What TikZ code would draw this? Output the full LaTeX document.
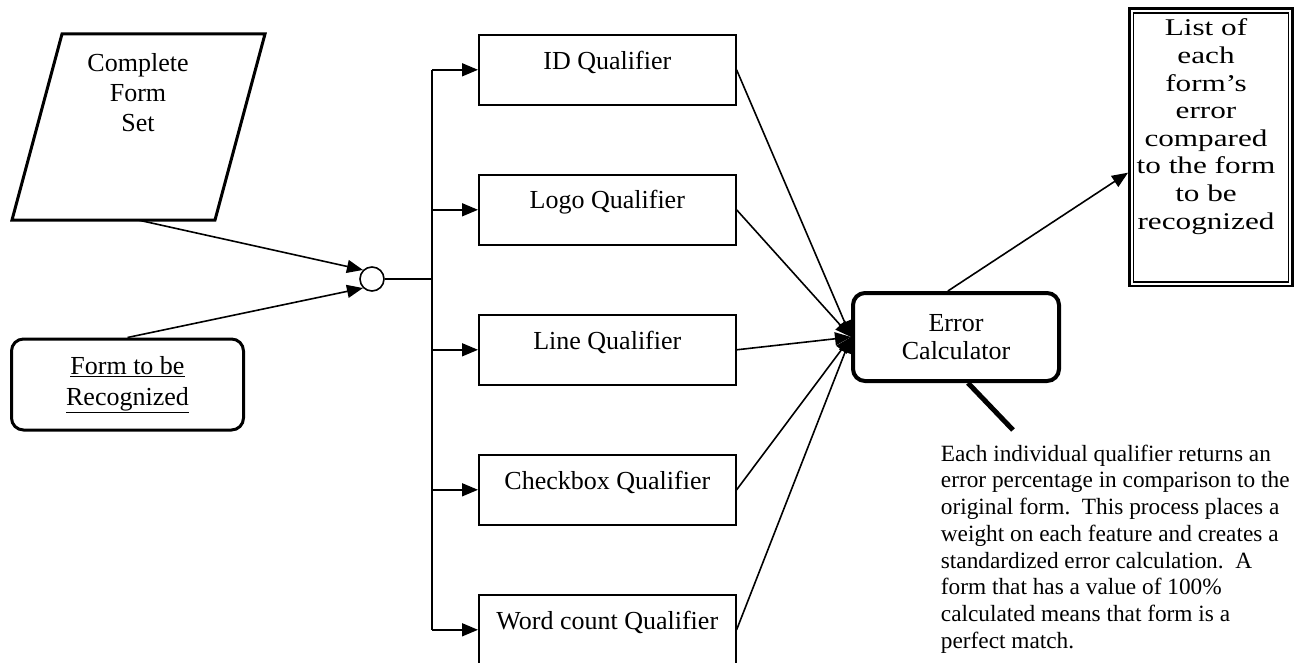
\documentclass[tikz,border=0pt]{standalone}
\usepackage{fontspec}
\setmainfont{Liberation Serif}
\usetikzlibrary{arrows.meta,calc}
\begin{document}
\begin{tikzpicture}[x=1pt,y=-1pt,
  every node/.style={font=\fontsize{26}{28}\selectfont, inner sep=0pt},
  qbox/.style={draw, line width=1.6pt, minimum width=257pt, minimum height=70pt, anchor=north west},
  conn/.style={line width=1.6pt},
  arr/.style={conn, -{Triangle[length=16pt,width=13pt]}},
  thickbox/.style={draw, line width=3pt, rounded corners=12pt},
]
\useasboundingbox (0,0) rectangle (1297,663);

% Complete form set (parallelogram)
\draw[line width=3pt, line join=miter] (62,34) -- (265,34) -- (215,220) -- (12,220) -- cycle;
\node[align=center, font=\fontsize{26}{30}\selectfont] (cfs) at (138,93) {Complete\\Form\\Set};
\coordinate (cfsout) at (138,220);

% Form to be recognized
\node[thickbox, minimum width=232pt, minimum height=91pt, align=center,
      font=\fontsize{26}{31}\selectfont] (ftr) at (127.5,384.5)
      {\underline{Form to be}\\\underline{Recognized}};

% junction
\node[draw, circle, line width=1.6pt, minimum size=24pt] (jn) at (372,279) {};
\draw[arr] (cfsout) -- (jn.135);
\draw[arr] (ftr.north) -- (jn.225);

% qualifiers
\node[qbox] (id)  at (478,34)  {};
\node[qbox] (logo) at (478,174) {};
\node[qbox] (line) at (478,314) {};
\node[qbox] (chk) at (478,454) {};
\node[qbox] (wc)  at (478,594) {};
\node (idt)   at ($(id.north)+(0,28)$)   {ID Qualifier};
\node (logot) at ($(logo.north)+(0,28)$) {Logo Qualifier};
\node (linet) at ($(line.north)+(0,28)$) {Line Qualifier};
\node (chkt)  at ($(chk.north)+(0,28)$)  {Checkbox Qualifier};
\node (wct)   at ($(wc.north)+(0,28)$)   {Word count Qualifier};

% bus
\coordinate (bus) at (432,279);
\draw[conn] (jn.east) -- (bus);
\draw[conn] (bus |- id.west) -- (bus |- wc.west);
\foreach \q in {id,logo,line,chk,wc}
  \draw[arr] (bus |- \q.west) -- (\q.west);

% error calculator
\node[draw, line width=4pt, rounded corners=12pt, minimum width=206pt, minimum height=88pt,
      align=center, font=\fontsize{26}{28}\selectfont] (ec) at (956,337) {Error\\Calculator};
\foreach \q in {id,logo,line,chk,wc}
  \draw[arr] (\q.east) -- (ec.west);

% list output
\node[draw, line width=2.7pt, minimum width=163.3pt, minimum height=277.3pt] (lst) at (1211,147.3) {};
\draw[line width=1.5pt] ($(lst.north west)+(5.5,5.5)$) rectangle ($(lst.south east)+(-5.5,-5.5)$);
\node (lstt) at (1206,127)
  {\fontsize{24}{27.6}\selectfont\scalebox{1.3}[1]{\begin{tabular}{@{}c@{}}List of\\each\\form’s\\error\\compared\\to the form\\to be\\recognized\end{tabular}}};
\draw[arr] (ec.100) -- (lst.197);

% callout
\coordinate (callend) at (1013,430);
\draw[line width=5pt] ($(ec.south)+(12,0)$) -- (callend);
\node[anchor=west, align=left, font=\fontsize{23.3}{26.7}\selectfont] (note) at (940.7,549)
  {Each individual qualifier returns an\\
   error percentage in comparison to the\\
   original form.\ \ This process places a\\
   weight on each feature and creates a\\
   standardized error calculation.\ \ A\\
   form that has a value of 100\%\\
   calculated means that form is a\\
   perfect match.};
\end{tikzpicture}
\end{document}
